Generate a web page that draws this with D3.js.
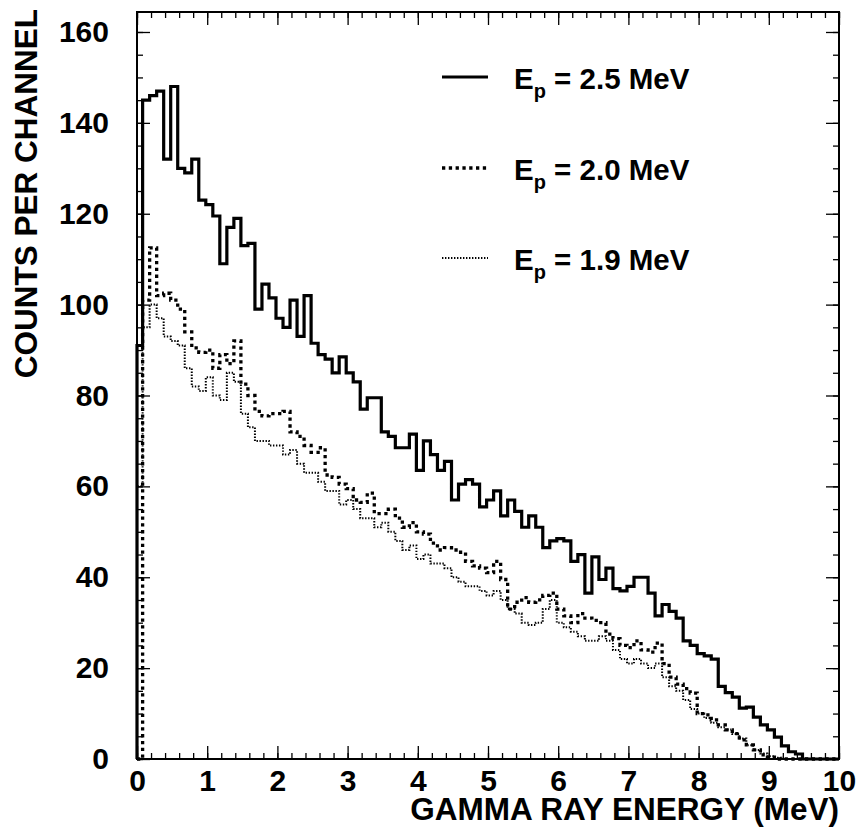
<!DOCTYPE html>
<html>
<head>
<meta charset="utf-8">
<script src="https://cdn.jsdelivr.net/npm/d3@7"></script>
<style>
  body { margin: 0; background: #fff; }
  text { font-family: "Liberation Sans", Arial, sans-serif; font-weight: bold; fill: #000; }
</style>
</head>
<body>
<svg id="chart"></svg>
<script>
// ---------------------- data ---------------------------

// first channel runs from 0 to 0.08 MeV, then 0.1 MeV channels
const firstEdge = 0.08;
const binWidth = 0.1;
const xMax = 10;

// counts per channel, Ep = 2.5 MeV (solid)
const counts25 = [91,
  145, 146, 147, 132, 148, 130, 129, 132, 123, 122,
  119.5, 109, 117, 119, 113, 113.5, 99, 104.5, 101.5, 97,
  95, 101, 93, 102, 91.5, 89, 88, 85, 88.5, 85,
  83, 77, 79.5, 79.5, 72, 71, 68.5, 68.5, 71.5, 63.5,
  70, 67, 63.5, 65.5, 57, 60.5, 61.5, 60.5, 55.5, 57,
  59, 53.5, 57, 54.5, 51, 53.5, 51, 46.5, 48, 48.5,
  48, 43.5, 45, 36.5, 44.5, 39.5, 42, 37.5, 37, 38,
  40, 40, 36.5, 31.5, 34, 32.5, 31, 26, 25, 23.2,
  22.7, 22, 16, 14.6, 13.6, 11.2, 11.4, 9.2, 7.5, 6.4,
  4.8, 2.9, 1.6, 1.1, 0, 0, 0, 0, 0, 0];

// counts per channel, Ep = 2.0 MeV (dashed)
const counts20 = [0,
  101, 112.5, 102, 102.5, 101, 99, 94, 90.5, 89.5, 90,
  86, 89, 87, 92, 82.5, 80, 76.5, 75.5, 76, 76,
  76.5, 72, 71, 69, 67.5, 68.5, 62.5, 62, 60.5, 59.5,
  57, 56.5, 58.5, 54, 54, 55, 53, 51, 52, 50,
  49.5, 47.5, 46, 46.5, 46, 45.5, 43.5, 42.5, 42, 41,
  43.5, 39.5, 33, 34.5, 35.5, 34.5, 35, 36, 36.5, 33,
  31.5, 30, 32, 31, 30.5, 30, 27.5, 26.5, 25, 24.5,
  26, 24, 23.5, 25.5, 21, 18, 16.5, 15.5, 14.5, 10,
  9.7, 8.6, 7.5, 6.4, 5.6, 4.2, 3.1, 2, 0.9, 0.4,
  0, 0, 0, 0, 0, 0, 0, 0, 0, 0];

// counts per channel, Ep = 1.9 MeV (dotted)
const counts19 = [60,
  95, 100, 97, 93, 92, 91, 86, 82, 81, 84,
  80, 79, 85, 83, 76, 73, 70, 70, 69, 69,
  67, 68, 65, 63, 63, 61, 59, 59, 56, 57,
  55, 53, 53, 51, 52, 50, 48, 46, 47, 44,
  45, 43, 43, 42, 40, 39, 38, 38, 37, 36,
  37, 35, 33, 32, 30, 29.5, 30, 33, 35, 30,
  29, 28, 27, 26, 26, 27, 26, 24, 22, 21,
  22, 21, 20, 21, 18, 16, 15, 13, 11, 10,
  9, 8, 7, 6.5, 5.5, 4.5, 3, 2, 1.2, 0.6,
  0.3, 0, 0, 0, 0, 0, 0, 0, 0, 0];

const seriesNames = ["2.5", "2.0", "1.9"];
const xTicks = d3.range(0, 11, 1);
const yTicks = d3.range(0, 161, 20);

// ---------------------- layout ---------------------------

const width = 859, height = 827;
const margin = { left: 137, right: 20, top: 12, bottom: 68 };

const svg = d3.select("#chart")
  .attr("width", width)
  .attr("height", height);

const xScale = d3.scaleLinear().domain([0, xMax]).range([margin.left, width - margin.right]);
const yScale = d3.scaleLinear().domain([0, 164.4]).range([height - margin.bottom, margin.top]);

const x0 = margin.left, x1 = width - margin.right;
const y0 = height - margin.bottom, y1 = margin.top;

// channel edges: 0, 0.08, 0.18, ... 9.98, 10
const edges = [0].concat(d3.range(100).map(k => firstEdge + k * binWidth)).concat([xMax]);

function stepPoints(vals) {
  const pts = [[0, 0]];
  vals.forEach((v, i) => {
    pts.push([edges[i], v], [Math.min(edges[i + 1], xMax), v]);
  });
  pts.push([xMax, 0]);
  return pts;
}

const line = d3.line()
  .x(d => xScale(d[0]))
  .y(d => yScale(d[1]));

// ---------------------- histograms ---------------------------

const styles = [
  { width: 3.2, dash: null },
  { width: 3.3, dash: "3.3,3.5" },
  { width: 2, dash: "1.4,1.6" }
];

[counts19, counts20, counts25].forEach((vals, j) => {
  const st = styles[2 - j];
  svg.append("path")
    .attr("d", line(stepPoints(vals)))
    .attr("fill", "none")
    .attr("stroke", "#000")
    .attr("stroke-width", st.width)
    .attr("stroke-dasharray", st.dash)
    .attr("stroke-linejoin", "miter");
});

// ---------------------- axes ---------------------------

const minorX = d3.range(0, 10.001, 0.2);
const minorY = d3.range(0, 165, 5);

// bottom
svg.append("g")
  .attr("transform", "translate(0," + y0 + ")")
  .call(d3.axisBottom(xScale).tickValues(minorX).tickSize(-6).tickSizeOuter(0).tickFormat(""));
svg.append("g")
  .attr("class", "xaxis")
  .attr("transform", "translate(0," + y0 + ")")
  .call(d3.axisBottom(xScale).tickValues(xTicks).tickSize(-13).tickSizeOuter(0).tickPadding(11).tickFormat(d3.format("d")));
// top
svg.append("g")
  .attr("transform", "translate(0," + y1 + ")")
  .call(d3.axisTop(xScale).tickValues(minorX).tickSize(-6).tickSizeOuter(0).tickFormat(""));
svg.append("g")
  .attr("transform", "translate(0," + y1 + ")")
  .call(d3.axisTop(xScale).tickValues(xTicks).tickSize(-13).tickSizeOuter(0).tickFormat(""));
// left
svg.append("g")
  .attr("transform", "translate(" + x0 + ",0)")
  .call(d3.axisLeft(yScale).tickValues(minorY).tickSize(-6).tickSizeOuter(0).tickFormat(""));
svg.append("g")
  .attr("class", "yaxis")
  .attr("transform", "translate(" + x0 + ",0)")
  .call(d3.axisLeft(yScale).tickValues(yTicks).tickSize(-13).tickSizeOuter(0).tickPadding(28).tickFormat(d3.format("d")));
// right
svg.append("g")
  .attr("transform", "translate(" + x1 + ",0)")
  .call(d3.axisRight(yScale).tickValues(minorY).tickSize(-6).tickSizeOuter(0).tickFormat(""));
svg.append("g")
  .attr("transform", "translate(" + x1 + ",0)")
  .call(d3.axisRight(yScale).tickValues(yTicks).tickSize(-13).tickSizeOuter(0).tickFormat(""));

svg.selectAll(".domain").remove();
svg.selectAll(".tick line").attr("stroke", "#000").attr("stroke-width", 1.3);
svg.selectAll(".tick text")
  .style("font-family", "'Liberation Sans', Arial, sans-serif")
  .style("font-weight", "bold")
  .style("font-size", "30px")
  .attr("fill", "#000");

// frame
svg.append("rect")
  .attr("x", x0).attr("y", y1)
  .attr("width", x1 - x0).attr("height", y0 - y1)
  .attr("fill", "none").attr("stroke", "#000").attr("stroke-width", 2);

// axis titles
svg.append("text")
  .attr("x", x1)
  .attr("y", 820)
  .attr("text-anchor", "end")
  .style("font-size", "31.5px")
  .text("GAMMA RAY ENERGY (MeV)");

svg.append("text")
  .attr("transform", "translate(37,9) rotate(-90)")
  .attr("text-anchor", "end")
  .style("font-size", "31.5px")
  .text("COUNTS PER CHANNEL");

// ---------------------- legend ---------------------------

const legendY = [77, 168, 258];
seriesNames.forEach((name, i) => {
  const st = styles[i];
  svg.append("line")
    .attr("x1", 442).attr("x2", 488)
    .attr("y1", legendY[i]).attr("y2", legendY[i])
    .attr("stroke", "#000")
    .attr("stroke-width", st.width)
    .attr("stroke-dasharray", st.dash);
  const t = svg.append("text")
    .attr("x", 514)
    .attr("y", legendY[i] + 12)
    .style("font-size", "29.5px");
  t.append("tspan").text("E");
  t.append("tspan").attr("dy", 9).style("font-size", "20px").text("p");
  t.append("tspan").attr("dy", -9).text(" = " + name + " MeV");
});
</script>
</body>
</html>
